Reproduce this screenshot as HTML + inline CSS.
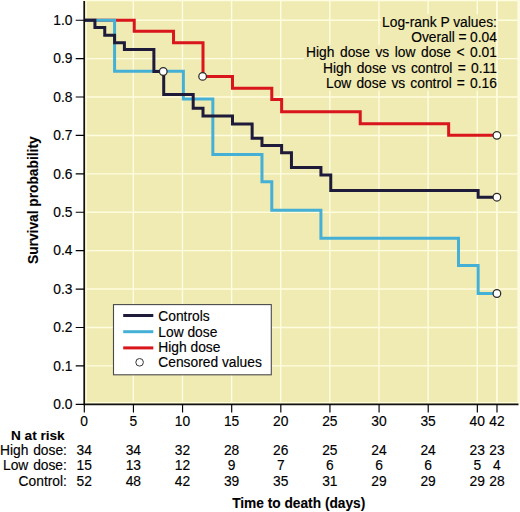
<!DOCTYPE html>
<html><head><meta charset="utf-8"><title>Survival</title><style>
html,body{margin:0;padding:0;background:#fff;width:520px;height:512px;overflow:hidden}
svg{display:block}
text{font-family:"Liberation Sans",sans-serif;font-size:13.8px;fill:#000;stroke:#000;stroke-width:0.15px}
.b{font-weight:bold;stroke-width:0.1px}
.e{text-anchor:end}.m{text-anchor:middle}
</style></head><body>
<svg width="520" height="512" viewBox="0 0 520 512">
<rect width="520" height="512" fill="#fff"/>
<rect x="84.2" y="0" width="433.4" height="404.3" fill="#F0EAB3"/>
<rect x="517.6" y="0" width="2.4" height="404.3" fill="#FCFBE2"/>
<path d="M133.33,0V404.3M182.46,0V404.3M231.59,0V404.3M280.72,0V404.3M329.85,0V404.3M378.98,0V404.3M428.11,0V404.3M477.24,0V404.3M496.89,0V404.3M84.2,365.89H517.6M84.2,327.48H517.6M84.2,289.07H517.6M84.2,250.66H517.6M84.2,212.25H517.6M84.2,173.84H517.6M84.2,135.43H517.6M84.2,97.02H517.6M84.2,58.61H517.6M84.2,20.20H517.6M84.2,0.5H517.6M86.2,0V404.3M84.2,402.6H517.6" stroke="#FFFDE0" stroke-width="1.4" fill="none"/>
<rect x="381.0" y="14.2" width="115.3" height="15.3" fill="#F0EAB3"/>
<rect x="408.4" y="29.6" width="87.9" height="15.3" fill="#F0EAB3"/>
<rect x="304.1" y="44.9" width="192.2" height="15.3" fill="#F0EAB3"/>
<rect x="319.9" y="60.4" width="176.4" height="15.3" fill="#F0EAB3"/>
<rect x="324.1" y="75.2" width="172.2" height="15.3" fill="#F0EAB3"/>
<path d="M496.89,0V404.3" stroke="#FFFDE0" stroke-width="1.3"/>
<text class="e" x="496.9" y="26.6" word-spacing="0">Log-rank P values:</text>
<text class="e" x="496.9" y="42.0" word-spacing="-0.3">Overall = 0.04</text>
<text class="e" x="496.9" y="57.3" word-spacing="1.7">High dose vs low dose &lt; 0.01</text>
<text class="e" x="496.9" y="72.8" word-spacing="1.48">High dose vs control = 0.11</text>
<text class="e" x="496.9" y="87.6" word-spacing="1.27">Low dose vs control = 0.16</text>
<path d="M84.20,20.20H134.23V31.30H173.53V42.80H203.01V76.40H232.49V88.20H271.79V99.60H281.62V111.70H360.23V123.70H448.66V135.30H496.89" stroke="#D8161B" stroke-width="3" fill="none"/>
<path d="M84.20,20.20H114.58V71.30H183.36V99.00H212.84V154.40H261.97V181.70H271.79V210.30H320.92V238.20H458.49V265.40H478.14V293.50H496.89" stroke="#45B0D5" stroke-width="3" fill="none"/>
<path d="M84.20,20.20H94.93V27.60H104.75V35.20H114.58V42.85H124.40V49.60H153.88V71.50H163.71V94.50H193.19V108.30H203.01V116.00H232.49V123.90H252.14V138.35H261.97V145.40H281.62V152.65H291.45V167.60H320.92V175.10H330.75V190.40H478.14V197.20H496.89" stroke="#1D1A3A" stroke-width="3" fill="none"/>
<circle cx="163.26" cy="71.5" r="3.8" fill="#fff" stroke="#2a2a2a" stroke-width="1.25"/>
<circle cx="202.61" cy="76.4" r="3.8" fill="#fff" stroke="#2a2a2a" stroke-width="1.25"/>
<circle cx="496.89" cy="135.3" r="3.8" fill="#fff" stroke="#2a2a2a" stroke-width="1.25"/>
<circle cx="496.89" cy="197.2" r="3.8" fill="#fff" stroke="#2a2a2a" stroke-width="1.25"/>
<circle cx="496.89" cy="293.5" r="3.8" fill="#fff" stroke="#2a2a2a" stroke-width="1.25"/>
<rect x="113.5" y="304.6" width="157.8" height="70.2" fill="#fff" stroke="#4a4a4a" stroke-width="1.1"/>
<path d="M123.2,315.5H153.3" stroke="#1D1A3A" stroke-width="3"/>
<path d="M123.2,331.7H153.3" stroke="#45B0D5" stroke-width="3"/>
<path d="M123.2,347.9H153.3" stroke="#D8161B" stroke-width="3"/>
<circle cx="139.6" cy="362.3" r="3.8" fill="#fff" stroke="#333" stroke-width="1"/>
<text x="158.3" y="321.2">Controls</text>
<text x="158.3" y="336.5">Low dose</text>
<text x="158.3" y="351.7">High dose</text>
<text x="158.3" y="367.0">Censored values</text>
<path d="M84.2,1V404.3H518.5" stroke="#111" stroke-width="1.7" fill="none"/>
<path d="M75.7,404.30H84.2M75.7,365.89H84.2M75.7,327.48H84.2M75.7,289.07H84.2M75.7,250.66H84.2M75.7,212.25H84.2M75.7,173.84H84.2M75.7,135.43H84.2M75.7,97.02H84.2M75.7,58.61H84.2M75.7,20.20H84.2M84.30,404.3V412.6M133.43,404.3V412.6M182.56,404.3V412.6M231.69,404.3V412.6M280.82,404.3V412.6M329.95,404.3V412.6M379.08,404.3V412.6M428.21,404.3V412.6M477.34,404.3V412.6M496.99,404.3V412.6" stroke="#000" stroke-width="1.15" fill="none"/>
<text class="e" x="72.5" y="409.10">0.0</text>
<text class="e" x="72.5" y="370.69">0.1</text>
<text class="e" x="72.5" y="332.28">0.2</text>
<text class="e" x="72.5" y="293.87">0.3</text>
<text class="e" x="72.5" y="255.46">0.4</text>
<text class="e" x="72.5" y="217.05">0.5</text>
<text class="e" x="72.5" y="178.64">0.6</text>
<text class="e" x="72.5" y="140.23">0.7</text>
<text class="e" x="72.5" y="101.82">0.8</text>
<text class="e" x="72.5" y="63.41">0.9</text>
<text class="e" x="72.5" y="25.00">1.0</text>
<text class="m" x="84.20" y="425.7">0</text>
<text class="m" x="133.33" y="425.7">5</text>
<text class="m" x="182.46" y="425.7">10</text>
<text class="m" x="231.59" y="425.7">15</text>
<text class="m" x="280.72" y="425.7">20</text>
<text class="m" x="329.85" y="425.7">25</text>
<text class="m" x="378.98" y="425.7">30</text>
<text class="m" x="428.11" y="425.7">35</text>
<text class="m" x="477.24" y="425.7">40</text>
<text class="m" x="496.89" y="425.7">42</text>
<text class="b" x="11.0" y="439.8" style="font-size:13.6px">N at risk</text>
<text class="e" x="66.9" y="455.2" word-spacing="1">High dose:</text>
<text class="m" x="84.20" y="455.2">34</text>
<text class="m" x="133.33" y="455.2">34</text>
<text class="m" x="182.46" y="455.2">32</text>
<text class="m" x="231.59" y="455.2">28</text>
<text class="m" x="280.72" y="455.2">26</text>
<text class="m" x="329.85" y="455.2">25</text>
<text class="m" x="378.98" y="455.2">24</text>
<text class="m" x="428.11" y="455.2">24</text>
<text class="m" x="477.24" y="455.2">23</text>
<text class="m" x="496.89" y="455.2">23</text>
<text class="e" x="66.9" y="470.3" word-spacing="1">Low dose:</text>
<text class="m" x="84.20" y="470.3">15</text>
<text class="m" x="133.33" y="470.3">13</text>
<text class="m" x="182.46" y="470.3">12</text>
<text class="m" x="231.59" y="470.3">9</text>
<text class="m" x="280.72" y="470.3">7</text>
<text class="m" x="329.85" y="470.3">6</text>
<text class="m" x="378.98" y="470.3">6</text>
<text class="m" x="428.11" y="470.3">6</text>
<text class="m" x="477.24" y="470.3">5</text>
<text class="m" x="496.89" y="470.3">4</text>
<text class="e" x="66.9" y="485.5" word-spacing="1">Control:</text>
<text class="m" x="84.20" y="485.5">52</text>
<text class="m" x="133.33" y="485.5">48</text>
<text class="m" x="182.46" y="485.5">42</text>
<text class="m" x="231.59" y="485.5">39</text>
<text class="m" x="280.72" y="485.5">35</text>
<text class="m" x="329.85" y="485.5">31</text>
<text class="m" x="378.98" y="485.5">29</text>
<text class="m" x="428.11" y="485.5">29</text>
<text class="m" x="477.24" y="485.5">29</text>
<text class="m" x="496.89" y="485.5">28</text>
<text class="b" x="232.15" y="507.7" style="font-size:13.73px">Time to death (days)</text>
<text class="b" transform="translate(37.6,264.0) rotate(-90)" style="font-size:13.76px">Survival probability</text>
</svg></body></html>
